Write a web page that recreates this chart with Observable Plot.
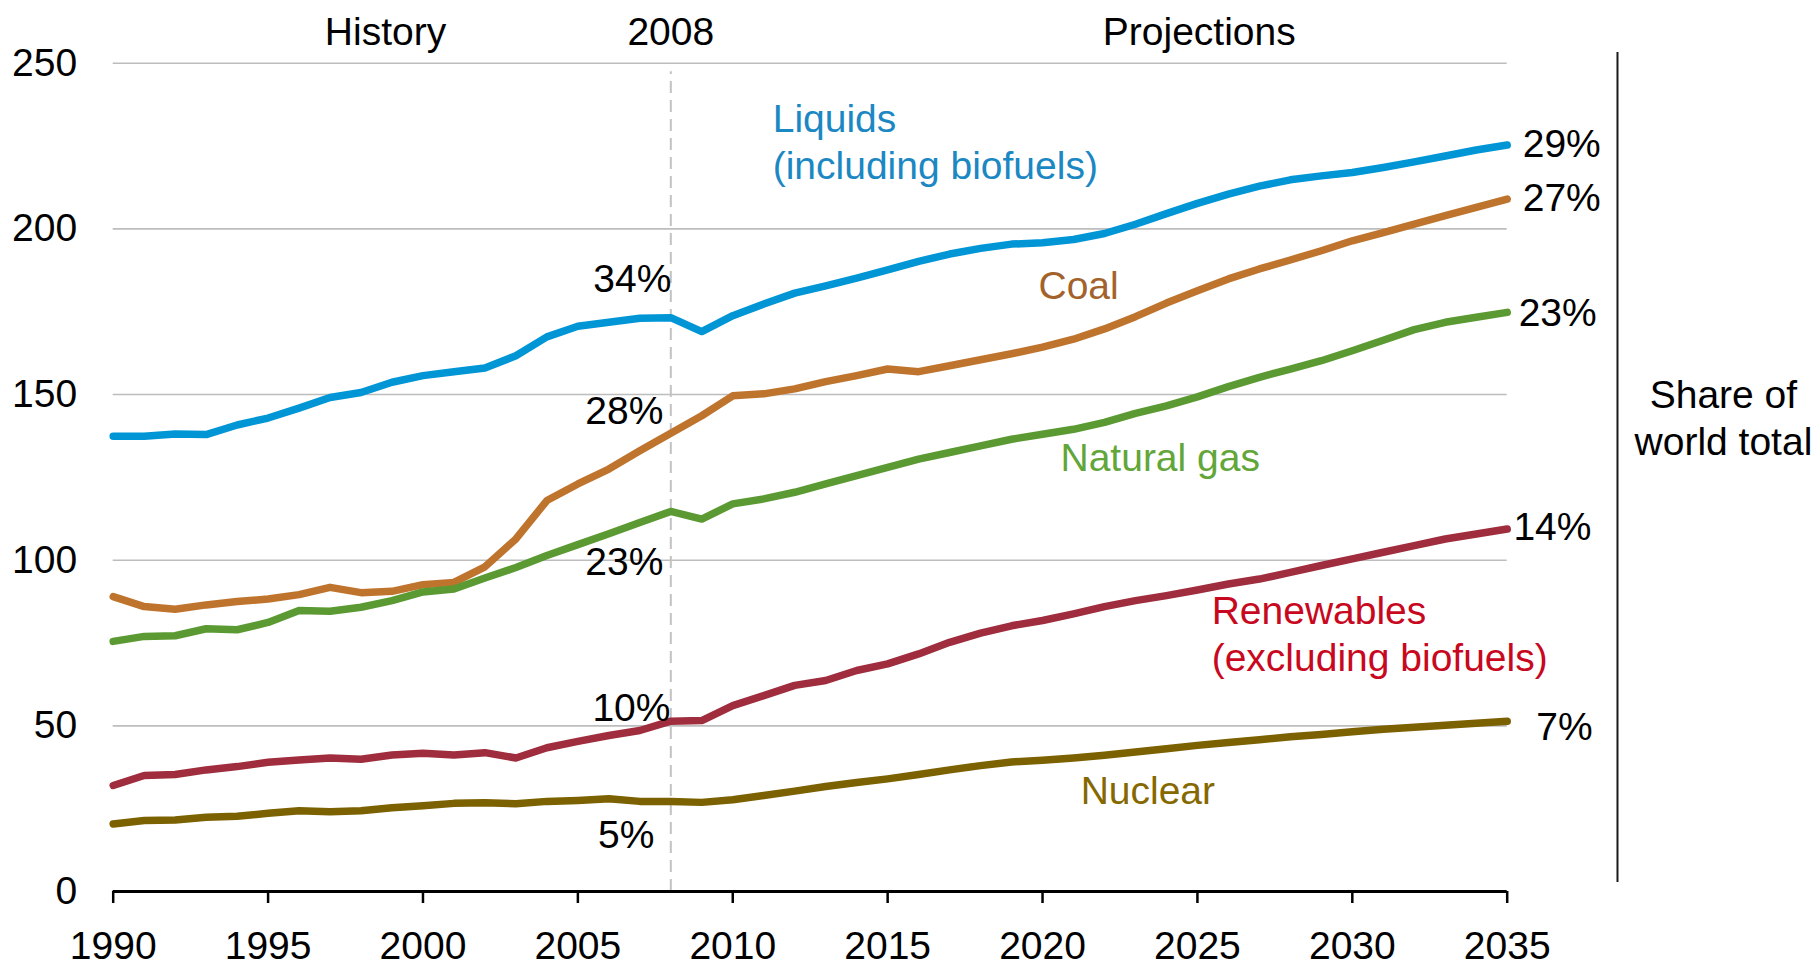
<!DOCTYPE html>
<html>
<head>
<meta charset="utf-8">
<script src="https://cdn.jsdelivr.net/npm/d3@7"></script>
<script src="https://cdn.jsdelivr.net/npm/@observablehq/plot@0.6"></script>
<style>
  html, body { margin: 0; padding: 0; background: #fff; overflow: hidden; }
  #chart svg { display: block; }
</style>
</head>
<body>
<div id="chart"></div>
<script>
// ---- Data (quadrillion Btu) ----
const years = [1990,1991,1992,1993,1994,1995,1996,1997,1998,1999,
               2000,2001,2002,2003,2004,2005,2006,2007,2008,2009,
               2010,2011,2012,2013,2014,2015,2016,2017,2018,2019,
               2020,2021,2022,2023,2024,2025,2026,2027,2028,2029,
               2030,2031,2032,2033,2034,2035];

const liquids = [137.4,137.4,138.1,137.9,140.8,142.9,145.9,149.1,150.6,153.7,
                 155.7,156.9,158.0,161.7,167.4,170.6,171.8,173.0,173.2,169.0,
                 173.8,177.3,180.6,182.8,185.1,187.6,190.2,192.4,194.1,195.4,
                 195.8,196.8,198.6,201.4,204.6,207.7,210.5,212.9,214.8,216.0,
                 217.0,218.5,220.2,222.0,223.8,225.3];

const coal = [89.0,86.0,85.2,86.5,87.5,88.3,89.6,91.8,90.2,90.6,
              92.6,93.3,98.0,106.4,118.0,123.0,127.5,133.0,138.3,143.6,
              149.6,150.2,151.7,153.9,155.7,157.7,156.9,158.7,160.5,162.3,
              164.3,166.7,169.8,173.5,177.6,181.3,184.9,187.9,190.6,193.4,
              196.4,198.9,201.4,204.0,206.5,209.0];

const naturalGas = [75.5,77.0,77.2,79.3,79.0,81.2,84.8,84.6,85.8,87.8,
                    90.4,91.3,94.6,97.8,101.4,104.7,108.0,111.4,114.7,112.4,
                    117.0,118.5,120.5,123.0,125.5,128.0,130.5,132.5,134.5,136.5,
                    138.0,139.5,141.6,144.3,146.6,149.3,152.4,155.2,157.7,160.2,
                    163.2,166.4,169.6,171.8,173.3,174.8];

const renewables = [32.0,35.0,35.3,36.7,37.7,39.0,39.7,40.3,39.9,41.2,
                    41.7,41.2,41.9,40.3,43.4,45.3,47.1,48.6,51.4,51.6,
                    56.1,59.1,62.2,63.7,66.7,68.7,71.7,75.2,78.0,80.2,
                    81.8,83.8,86.0,87.8,89.3,91.0,92.8,94.3,96.3,98.4,
                    100.4,102.4,104.4,106.4,107.9,109.4];

const nuclear = [20.4,21.4,21.6,22.4,22.7,23.6,24.4,24.1,24.4,25.3,
                 25.9,26.6,26.8,26.5,27.2,27.5,28.0,27.2,27.2,26.9,
                 27.7,29.0,30.3,31.7,32.9,34.0,35.3,36.7,38.0,39.1,
                 39.6,40.3,41.1,42.1,43.1,44.1,45.0,45.8,46.7,47.4,
                 48.2,49.0,49.6,50.2,50.8,51.4];

const seriesNames = ["Liquids", "Coal", "Natural gas", "Renewables", "Nuclear"];
const seriesValues = [liquids, coal, naturalGas, renewables, nuclear];
const lineColors = ["#0096d6", "#bf742e", "#5b9a33", "#9f2d3d", "#7c6100"];
const labelColors = ["#1b87c3", "#a3622b", "#62a63a", "#c8081e", "#866800"];

const xTicks = [1990,1995,2000,2005,2010,2015,2020,2025,2030,2035];
const yTicks = [0,50,100,150,200,250];

// share of world total (2008 and 2035)
const share2008 = ["34%", "28%", "23%", "10%", "5%"];
const share2035 = ["29%", "27%", "23%", "14%", "7%"];

// ---- Long table for the library ----
const table = [];
seriesNames.forEach((s, i) => years.forEach((yr, j) => table.push({series: s, year: yr, value: seriesValues[i][j]})));

// ---- Annotation placement (data coordinates) ----
const seriesLabels = [
  {text: "Liquids\n(including biofuels)", x: 2011.29, y: 215.1, c: 0},
  {text: "Coal", x: 2019.87, y: 178.8, c: 1},
  {text: "Natural gas", x: 2020.58, y: 127.0, c: 2},
  {text: "Renewables\n(excluding biofuels)", x: 2025.46, y: 66.7, c: 3},
  {text: "Nuclear", x: 2021.23, y: 26.3, c: 4}
];
const leftPctPos = [{x: 2008.02, y: 180.8}, {x: 2007.76, y: 141.2}, {x: 2007.76, y: 95.4}, {x: 2007.99, y: 51.6}, {x: 2007.47, y: 13.1}];
const rightPctPos = [{x: 2035.5, y: 221.6}, {x: 2035.5, y: 205.5}, {x: 2035.37, y: 170.8}, {x: 2035.2, y: 106.2}, {x: 2035.94, y: 45.6}];
const leftPct = share2008.map((t, i) => ({text: t, ...leftPctPos[i]}));
const rightPct = share2035.map((t, i) => ({text: t, ...rightPctPos[i]}));
const headers = [
  {text: "History", x: 1998.79, y: 255.6},
  {text: "2008", x: 2008, y: 255.6},
  {text: "Projections", x: 2025.06, y: 255.6}
];
const shareTitle = [{text: "Share of\nworld total", x: 2041.98, y: 131.6}];

const FONT = "'Liberation Sans', Arial, Helvetica, sans-serif";
const FS = 39;

const chart = Plot.plot({
  width: 1816,
  height: 965,
  marginLeft: 112.7,
  marginRight: 309.3,
  marginTop: 62.7,
  marginBottom: 74,
  style: {background: "#fff", fontFamily: FONT, fontSize: FS + "px", color: "#000", overflow: "visible"},
  x: {type: "linear", domain: [1990, 2035]},
  y: {domain: [0, 250]},
  color: {domain: seriesNames, range: lineColors},
  marks: [
    Plot.gridY(yTicks.filter(d => d > 0), {stroke: "#bdbdbd", strokeOpacity: 1, strokeWidth: 1.6}),
    Plot.ruleX([2008], {y1: 0, y2: 247.4, stroke: "#c2c2c2", strokeWidth: 2, strokeDasharray: "12,7"}),
    Plot.line(table, {x: "year", y: "value", z: "series", stroke: "series", strokeWidth: 7.5, strokeLinecap: "round", strokeLinejoin: "round"}),
    Plot.ruleY([0], {stroke: "#000", strokeWidth: 3}),
    Plot.axisX({ticks: xTicks, tickSize: 12, tickPadding: 28, tickFormat: d => String(d), label: null, stroke: "#000", strokeWidth: 2.5, fontSize: FS, fill: "#000"}),
    Plot.axisY({ticks: yTicks, tickSize: 0, tickPadding: 36, label: null, fontSize: FS, fill: "#000"}),
    Plot.text(headers, {x: "x", y: "y", text: "text", textAnchor: "middle", lineAnchor: "bottom", fontSize: FS, fill: "#000"}),
    Plot.text(seriesLabels, {x: "x", y: "y", text: "text", textAnchor: "start", lineAnchor: "bottom", lineHeight: 1.2, fontSize: FS, fill: d => labelColors[d.c]}),
    Plot.text(leftPct, {x: "x", y: "y", text: "text", textAnchor: "end", lineAnchor: "bottom", fontSize: FS, fill: "#000"}),
    Plot.text(rightPct, {x: "x", y: "y", text: "text", textAnchor: "start", lineAnchor: "bottom", fontSize: FS, fill: "#000"}),
    Plot.ruleX([2038.56], {y1: 2.7, y2: 253.2, stroke: "#1a1a1a", strokeWidth: 2}),
    Plot.text(shareTitle, {x: "x", y: "y", text: "text", textAnchor: "middle", lineAnchor: "bottom", lineHeight: 1.205, fontSize: FS, fill: "#000"})
  ]
});

document.getElementById("chart").append(chart);
</script>
</body>
</html>
